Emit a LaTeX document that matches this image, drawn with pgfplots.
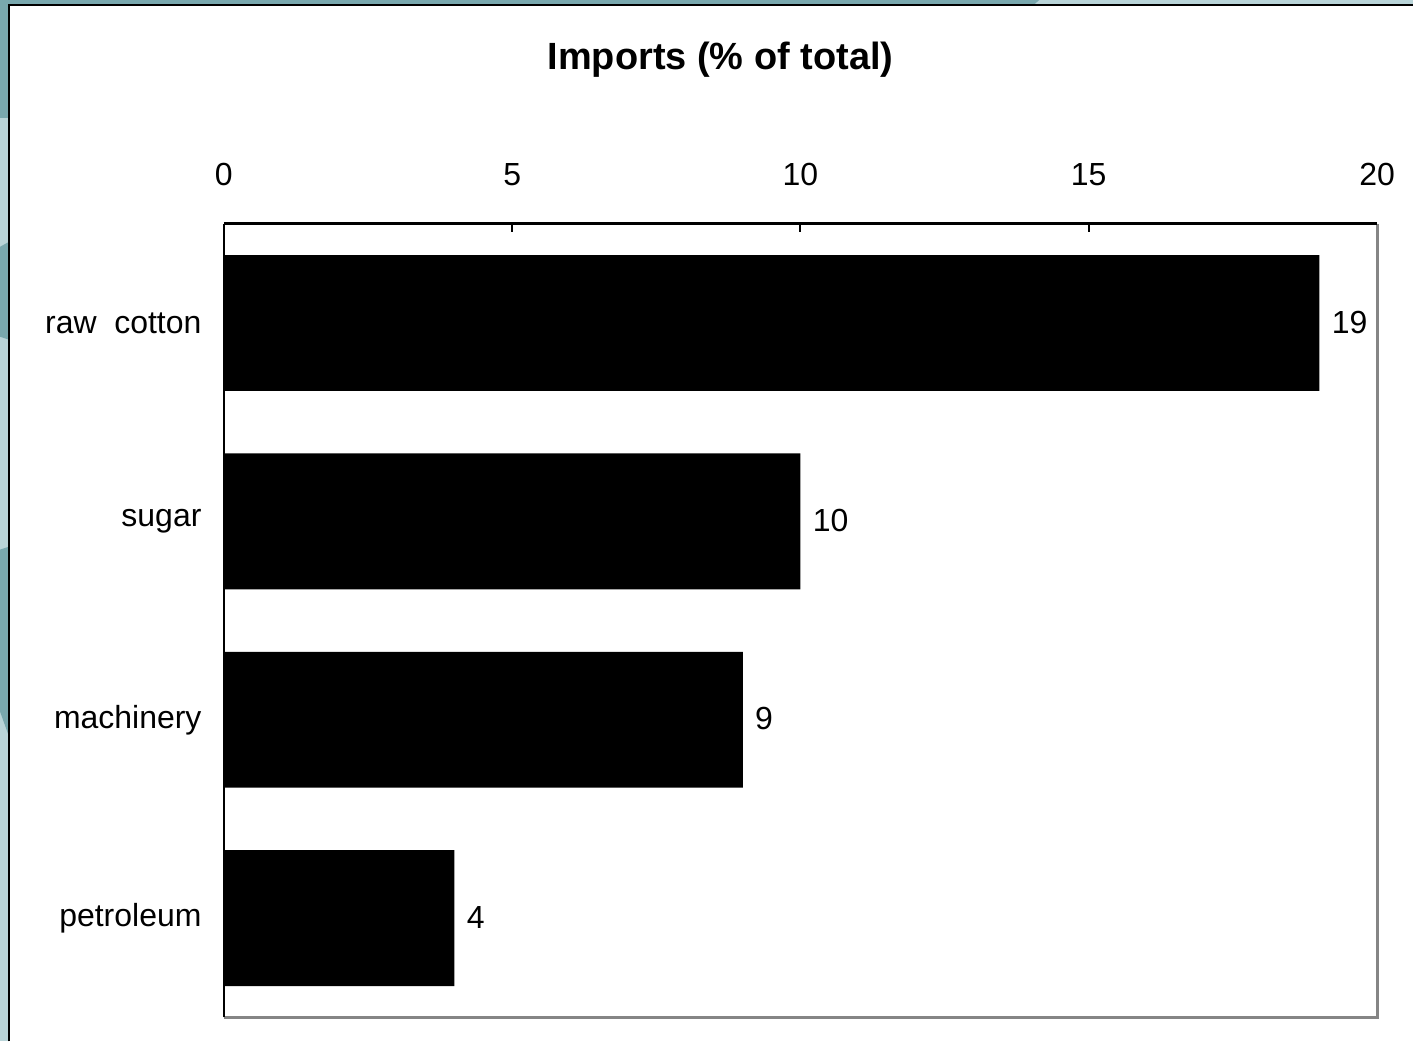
\documentclass[border=0pt]{standalone}
\usepackage{pgfplots}
\pgfplotsset{compat=1.18}
\usepackage{fontspec}
\setmainfont{Liberation Sans}
\definecolor{tealdark}{HTML}{79A8AE}
\definecolor{teallight}{HTML}{B9D4D8}
\definecolor{framegray}{HTML}{858585}
\begin{document}
\begin{tikzpicture}
% slide background behind the chart panel
\fill[teallight] (0,0) rectangle (14.14,10.42);
\fill[tealdark] (0,10.42) -- (10.40,10.42) -- (10.32,10.35) -- (0,10.35) -- cycle;
\fill[tealdark] (0,10.42) rectangle (0.09,9.24);
\fill[tealdark] (0,7.95) -- (0.09,8.00) -- (0.09,7.02) -- (0,7.05) -- cycle;
\fill[tealdark] (0,4.92) -- (0.09,4.95) -- (0.09,3.05) -- (0,3.30) -- cycle;
% white chart panel
\fill[white] (0.09,0) rectangle (14.14,10.37);
\draw[black, line width=0.2mm] (0.09,0) -- (0.09,10.37) -- (14.14,10.37);
% title
\node[font=\fontsize{10.8}{12}\selectfont\bfseries] at (7.21,9.82) {Imports (\% of total)};
\begin{axis}[
  at={(2.24cm,0.24cm)}, anchor=south west,
  width=11.54cm, height=7.94cm, scale only axis,
  xbar, bar width=1.36cm,
  xmin=0, xmax=20, ymin=-0.5, ymax=3.5,
  y dir=reverse,
  xtick={0,5,10,15,20},
  xtick pos=right, xticklabel pos=right,
  tick align=inside, major tick length=0.08cm,
  xtick style={black, line width=0.2mm},
  ytick={0,1,2,3},
  yticklabels={raw\ \ cotton, sugar, machinery, petroleum},
  ytick style={draw=none},
  axis line style={draw=none},
  /pgf/number format/assume math mode=true,
  ticklabel style={font=\fontsize{9.1}{11}\selectfont},
  xticklabel style={yshift=2.6mm},
  yticklabel style={xshift=-1.0mm, align=right},
  nodes near coords,
  every node near coord/.append style={font=\fontsize{9.1}{11}\selectfont, anchor=west, yshift=0.1mm},
  clip=false,
]
\addplot[fill=black, draw=none] coordinates {(19,0) (10,1) (9,2) (4,3)};
% plot frame: black top and left edges, grey right and bottom edges
\draw[framegray, line width=0.3mm] (rel axis cs:1,1) -- (rel axis cs:1,0) -- (rel axis cs:0,0);
\draw[black, line width=0.2mm] (rel axis cs:0,0) -- (rel axis cs:0,1);
\draw[black, line width=0.3mm] (rel axis cs:0,1) -- (rel axis cs:1,1);
\end{axis}
\end{tikzpicture}
\end{document}
